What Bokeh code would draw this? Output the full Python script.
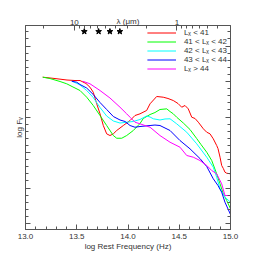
import numpy as np
from bokeh.plotting import figure
from bokeh.models import (Range1d, LinearAxis, FixedTicker, SingleIntervalTicker,
                          CustomJSTickFormatter, PrintfTickFormatter)
from bokeh.embed import file_html
from bokeh.resources import INLINE

# ---------------- data (log rest frequency [Hz], log F_nu [arbitrary]) ----------------
red_x = [13.168, 13.288, 13.405, 13.483, 13.532, 13.590, 13.629, 13.661, 13.695, 13.727,
         13.759, 13.792, 13.824, 13.857, 13.890, 13.954, 14.020, 14.068, 14.117, 14.182,
         14.215, 14.280, 14.344, 14.390, 14.442, 14.488, 14.524, 14.556, 14.588, 14.622,
         14.654, 14.686, 14.735, 14.768, 14.800, 14.832, 14.865, 14.878, 14.898, 14.914,
         14.930, 14.946, 14.963, 15.000]
red_y = [2.061, 2.042, 2.021, 2.014, 2.014, 1.972, 1.920, 1.849, 1.686, 1.545,
         1.380, 1.263, 1.239, 1.263, 1.310, 1.380, 1.451, 1.521, 1.545, 1.592,
         1.686, 1.789, 1.779, 1.761, 1.732, 1.690, 1.638, 1.662, 1.615, 1.497,
         1.479, 1.427, 1.334, 1.286, 1.263, 1.193, 1.099, 1.056, 0.934, 0.817,
         0.775, 0.723, 0.708, 0.700]

green_x = [13.168, 13.239, 13.288, 13.337, 13.402, 13.463, 13.532, 13.597, 13.661, 13.727,
           13.792, 13.857, 13.890, 13.939, 13.987, 14.052, 14.117, 14.149, 14.215, 14.263,
           14.312, 14.378, 14.410, 14.442, 14.475, 14.540, 14.605, 14.670, 14.712, 14.768,
           14.817, 14.865, 14.898, 14.930, 14.963, 15.000]
green_y = [2.061, 2.042, 2.021, 2.000, 1.968, 1.923, 1.873, 1.779, 1.662, 1.521,
           1.380, 1.239, 1.201, 1.201, 1.239, 1.310, 1.408, 1.479, 1.535, 1.563,
           1.606, 1.615, 1.577, 1.545, 1.497, 1.415, 1.324, 1.197, 1.113, 1.004,
           0.887, 0.700, 0.559, 0.418, 0.324, 0.207]

cyan_x = [13.451, 13.493, 13.532, 13.597, 13.661, 13.727, 13.792, 13.857, 13.922, 13.987,
          14.052, 14.117, 14.182, 14.215, 14.247, 14.312, 14.361, 14.410, 14.475, 14.573,
          14.670, 14.768, 14.832, 14.865, 14.898, 14.946, 15.000]
cyan_y = [2.004, 1.979, 1.951, 1.873, 1.775, 1.634, 1.514, 1.444, 1.415, 1.427,
          1.437, 1.465, 1.514, 1.500, 1.475, 1.458, 1.472, 1.475, 1.404, 1.286,
          1.123, 0.934, 0.793, 0.652, 0.489, 0.370, 0.300]

blue_x = [13.451, 13.500, 13.532, 13.597, 13.661, 13.727, 13.792, 13.857, 13.922, 13.971,
          14.020, 14.068, 14.117, 14.215, 14.263, 14.312, 14.410, 14.507, 14.605, 14.702,
          14.768, 14.832, 14.878, 14.914, 14.946, 15.000]
blue_y = [2.004, 1.990, 1.958, 1.908, 1.817, 1.704, 1.606, 1.507, 1.458, 1.437,
          1.380, 1.356, 1.366, 1.380, 1.387, 1.380, 1.310, 1.169, 1.052, 0.915,
          0.803, 0.630, 0.535, 0.441, 0.300, 0.127]

magenta_x = [13.558, 13.629, 13.727, 13.824, 13.922, 13.987, 14.020, 14.068, 14.117, 14.215,
             14.312, 14.410, 14.507, 14.573, 14.637, 14.702, 14.768, 14.817, 14.865, 14.914,
             14.946, 15.000]
magenta_y = [2.004, 1.968, 1.873, 1.768, 1.638, 1.545, 1.497, 1.427, 1.404, 1.356,
             1.239, 1.145, 1.075, 0.958, 0.934, 0.887, 0.817, 0.746, 0.700, 0.559,
             0.394, 0.394]

labels = ["L\u2093 < 41", "41 < L\u2093 < 42", "42 < L\u2093 < 43", "43 < L\u2093 < 44", "L\u2093 > 44"]
colors = ["#ff0000", "#00ff00", "#00ffff", "#0000ff", "#ff00ff"]

# IRAC band wavelengths (micron) marked with stars
irac_um = [3.6, 4.5, 5.8, 8.0]
irac_level = 2.704

# top axis wavelengths (micron)
lam_major = [10, 1]
lam_minor = [20, 9, 8, 7, 6, 5, 4, 3, 2, 0.9, 0.8, 0.7, 0.6, 0.5, 0.4]

C_UM = 2.998e14  # speed of light in micron/s

FONT = "Liberation Sans"
TXT = "#333333"
AX = "#555555"

p = figure(width=250, height=256, x_range=Range1d(13.0, 15.0), y_range=Range1d(-0.0845, 2.789),
           output_backend="svg", toolbar_location=None,
           min_border_left=25, min_border_right=20, min_border_top=25, min_border_bottom=27)
p.xgrid.visible = False
p.ygrid.visible = False
p.outline_line_color = AX
p.background_fill_color = "white"

series = [(red_x, red_y), (green_x, green_y), (cyan_x, cyan_y), (blue_x, blue_y), (magenta_x, magenta_y)]
for (xs, ys), lab, col in zip(series, labels, colors):
    p.line(xs, ys, line_color=col, line_width=1, legend_label=lab)

star_x = [float(np.log10(C_UM / l)) for l in irac_um]
p.scatter(star_x, [irac_level] * len(star_x), marker="star", size=6, color="black")

def style_axis(ax, labels_on=True):
    ax.axis_line_color = AX
    ax.major_tick_line_color = AX
    ax.minor_tick_line_color = AX
    ax.major_tick_in = 5
    ax.major_tick_out = 0
    ax.minor_tick_in = 3
    ax.minor_tick_out = 0
    ax.major_label_text_font = FONT
    ax.major_label_text_font_size = "8px"
    ax.major_label_text_color = TXT
    ax.axis_label_text_font = FONT
    ax.axis_label_text_font_size = "8px"
    ax.axis_label_text_font_style = "normal"
    ax.axis_label_text_color = TXT
    if not labels_on:
        ax.formatter = CustomJSTickFormatter(code="return ''")
        ax.major_label_standoff = 0

# bottom axis
xb = p.xaxis[0]
xb.ticker = SingleIntervalTicker(interval=0.5, num_minor_ticks=5)
xb.formatter = PrintfTickFormatter(format="%.1f")
style_axis(xb)
xb.major_label_standoff = 4
xb.axis_label = "log Rest Frequency (Hz)"
xb.axis_label_standoff = 0

# left axis
yl = p.yaxis[0]
yl.ticker = SingleIntervalTicker(interval=0.5, num_minor_ticks=5)
style_axis(yl, labels_on=False)
yl.axis_label = "log F\u1d65"
yl.axis_label_standoff = 2

# right axis
yr = LinearAxis(ticker=SingleIntervalTicker(interval=0.5, num_minor_ticks=5))
style_axis(yr, labels_on=False)
p.add_layout(yr, "right")

# top axis: wavelength
top = LinearAxis(ticker=FixedTicker(ticks=[float(np.log10(C_UM / l)) for l in lam_major],
                                    minor_ticks=[float(np.log10(C_UM / l)) for l in lam_minor]))
style_axis(top)
top.formatter = CustomJSTickFormatter(code="return Math.round(%g / Math.pow(10, tick)).toString()" % C_UM)
top.major_label_standoff = 1
top.axis_label = "\u03bb (\u03bcm)"
top.axis_label_standoff = -9
p.add_layout(top, "above")

# legend
leg = p.legend[0]
leg.location = "top_right"
leg.margin = 3
leg.padding = 0
leg.spacing = -5
leg.glyph_width = 29
leg.glyph_height = 5
leg.label_height = 5
leg.label_standoff = 8
leg.label_text_font = FONT
leg.label_text_font_size = "8px"
leg.label_text_color = TXT
leg.label_text_baseline = "alphabetic"
leg.background_fill_alpha = 0
leg.border_line_alpha = 0

open("out.html", "w").write(file_html(p, INLINE))
